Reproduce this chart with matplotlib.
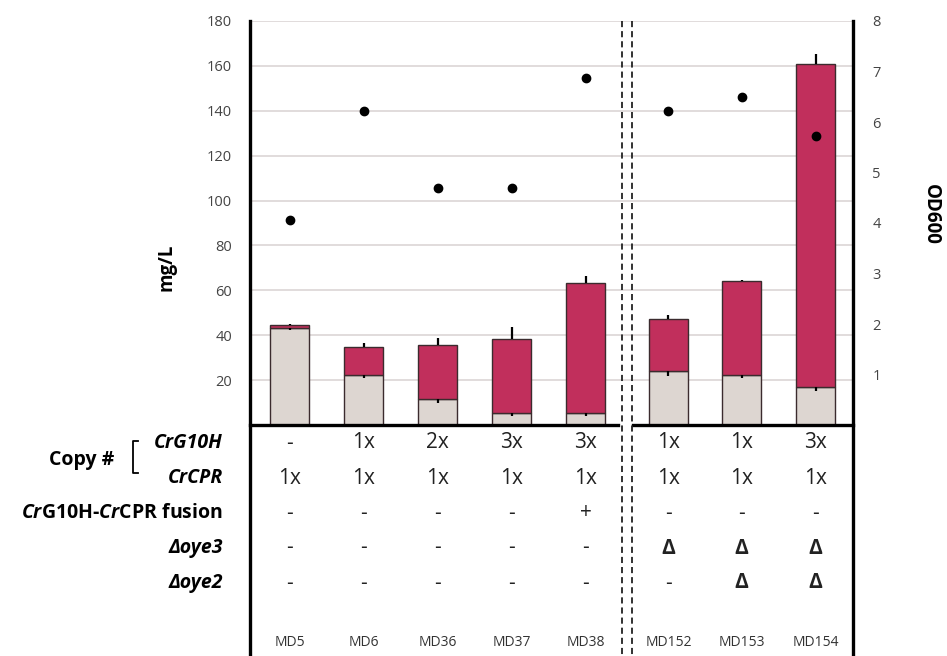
import matplotlib
matplotlib.use("Agg")
import matplotlib.pyplot as plt
from matplotlib.lines import Line2D

plt.rcParams['font.family'] = ['Open Sans', 'DejaVu Sans']
plt.rcParams['mathtext.fontset'] = 'custom'
plt.rcParams['mathtext.it'] = 'Open Sans:italic:bold'
plt.rcParams['mathtext.bf'] = 'Open Sans:bold'
plt.rcParams['mathtext.rm'] = 'Open Sans:bold'

# strains and titers (mg/L); gray = lower segment, red = upper segment
strains = ['MD5', 'MD6', 'MD36', 'MD37', 'MD38', 'MD152', 'MD153', 'MD154']
gray_val = [43.3, 22.2, 11.8, 5.2, 5.2, 24.0, 22.2, 16.8]
gray_err = [1.0, 1.3, 2.0, 1.0, 1.0, 2.0, 1.3, 1.5]
red_val = [1.3, 12.7, 23.8, 32.9, 58.2, 23.2, 41.9, 144.0]
red_err = [0.3, 1.5, 3.3, 5.7, 3.1, 1.8, 0.5, 4.7]
od600 = [4.06, 6.22, 4.70, 4.70, 6.88, 6.22, 6.49, 5.72]

# genotype table under the bars
g10h_copies = ['-', '1x', '2x', '3x', '3x', '1x', '1x', '3x']
cpr_copies = ['1x', '1x', '1x', '1x', '1x', '1x', '1x', '1x']
fusion = ['-', '-', '-', '-', '+', '-', '-', '-']
oye3 = ['-', '-', '-', '-', '-', 'Δ', 'Δ', 'Δ']
oye2 = ['-', '-', '-', '-', '-', '-', 'Δ', 'Δ']

xpos = [0, 1, 2, 3, 4, 5.12, 6.11, 7.11]

W, H = 947, 656
fig = plt.figure(figsize=(W / 100, H / 100), dpi=100)
ax = fig.add_axes([250 / W, 1 - 425 / H, (853 - 250) / W, (425 - 21) / H])
ax2 = ax.twinx()

RED = '#C12F5C'
GRAY = '#DDD6D1'
EDGE = '#3b2b2e'

ax.set_xlim(-0.534, 7.615)
ax.set_ylim(0, 180)
ax2.set_ylim(0, 8)

for y in range(20, 181, 20):
    ax.axhline(y, color='#DCD6D6', lw=1.2, zorder=0)

ax.bar(xpos, gray_val, width=0.53, color=GRAY, edgecolor=EDGE, lw=1.0, zorder=2)
ax.bar(xpos, red_val, width=0.53, bottom=gray_val, color=RED, edgecolor=EDGE,
       lw=1.0, zorder=2)
ax.errorbar(xpos, gray_val, yerr=[gray_err, [0] * 8], fmt='none', ecolor='black',
            elinewidth=1.6, capsize=0, zorder=3)
tops = [g + r for g, r in zip(gray_val, red_val)]
ax.errorbar(xpos, tops, yerr=[[0] * 8, red_err], fmt='none', ecolor='black',
            elinewidth=1.6, capsize=0, zorder=3)

ax2.plot(xpos, od600, 'o', color='black', ms=6, zorder=4)

for a in (ax, ax2):
    for s in a.spines.values():
        s.set_visible(False)
ax.set_xticks([])
ax.set_yticks(range(20, 181, 20))
ax2.set_yticks(range(1, 9))
ax.tick_params(axis='y', length=0, pad=13, labelsize=10.5, labelcolor='#444444')
ax2.tick_params(axis='y', length=0, pad=14, labelsize=10.5, labelcolor='#444444')

ax.set_ylabel('mg/L', fontsize=13.5, fontweight='bold')
ax2.set_ylabel('OD600', fontsize=13.5, fontweight='bold', rotation=-90)
ax.yaxis.set_label_coords(-0.122, 0.39)
ax2.yaxis.set_label_coords(1.145, 0.52)

# frame lines reaching down through the table
ax.plot([-0.534, -0.534], [180, -105], color='black', lw=2.4, clip_on=False, zorder=5)
ax.plot([7.615, 7.615], [180, -105], color='black', lw=2.4, clip_on=False, zorder=5)
ax.plot([-0.534, 4.44], [0, 0], color='black', lw=2.4, clip_on=False, zorder=5)
ax.plot([4.64, 7.615], [0, 0], color='black', lw=2.4, clip_on=False, zorder=5)
for xd in (4.50, 4.63):
    ax.plot([xd, xd], [180, -105], color='#222222', lw=1.3, ls=(0, (3.4, 2.2)),
            clip_on=False, zorder=5)

# table text
tr = ax.get_xaxis_transform()
rows = [(g10h_copies, 443), (cpr_copies, 478), (fusion, 513), (oye3, 548), (oye2, 583)]
for vals, ypx in rows:
    yax = (425 - ypx) / (425 - 21)
    for x, v in zip(xpos, vals):
        bold = v == 'Δ'
        ax.text(x, yax, v, transform=tr, ha='center', va='center', fontsize=15,
                fontweight='bold' if bold else 'normal', color='#222222')
yax = (425 - 643) / (425 - 21)
for x, s in zip(xpos, strains):
    ax.text(x, yax, s, transform=tr, ha='center', va='center', fontsize=10,
            color='#333333')

row_labels = ['CrG10H', 'CrCPR', None, 'Δoye3', 'Δoye2']
for lab, (_, ypx) in zip(row_labels, rows):
    if lab is None:
        continue
    fig.text(223 / W, 1 - ypx / H, lab, ha='right', va='center', fontsize=14,
             fontweight='bold', fontstyle='italic')
fig.text(223 / W, 1 - 513 / H, r'$\mathit{Cr}\mathbf{G10H}$-$\mathit{Cr}\mathbf{CPR}$ fusion',
         ha='right', va='center', fontsize=14, fontweight='bold')
fig.text(82 / W, 1 - 460 / H, 'Copy #', ha='center', va='center', fontsize=14,
         fontweight='bold')
fig.add_artist(Line2D([138 / W, 133 / W, 133 / W, 138 / W],
                      [1 - 441 / H, 1 - 441 / H, 1 - 473 / H, 1 - 473 / H],
                      color='black', lw=1.3))

fig.savefig('out.png', dpi=100)
